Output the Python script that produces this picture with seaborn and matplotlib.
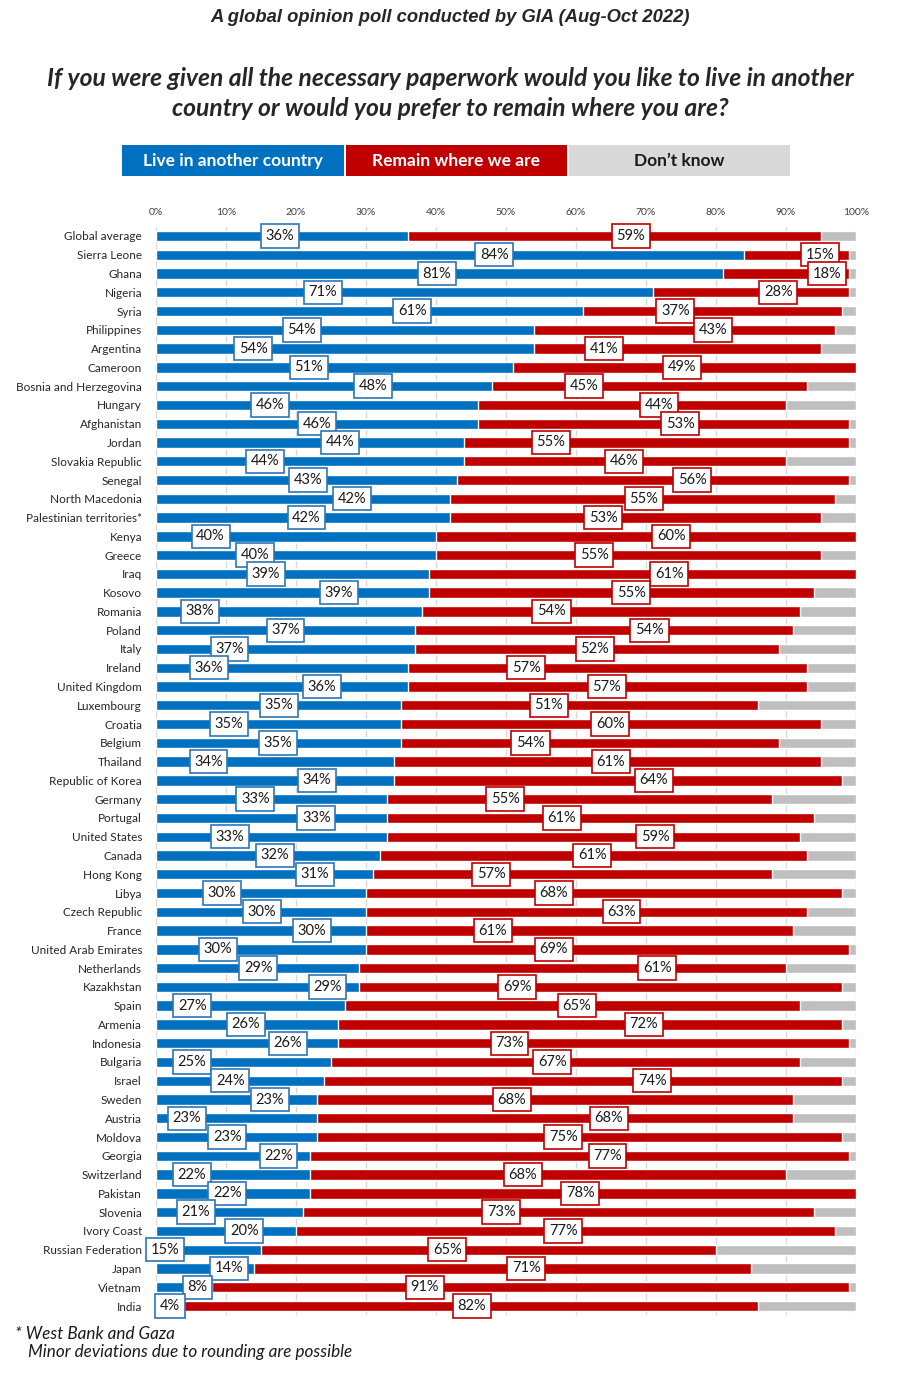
import pandas as pd
import matplotlib
matplotlib.use("Agg")
import matplotlib.pyplot as plt
import seaborn as sns
from matplotlib.patches import Rectangle

# Data
countries = [
    "Global average", "Sierra Leone", "Ghana", "Nigeria", "Syria", "Philippines",
    "Argentina", "Cameroon", "Bosnia and Herzegovina", "Hungary", "Afghanistan",
    "Jordan", "Slovakia Republic", "Senegal", "North Macedonia",
    "Palestinian territories*", "Kenya", "Greece", "Iraq", "Kosovo", "Romania",
    "Poland", "Italy", "Ireland", "United Kingdom", "Luxembourg", "Croatia",
    "Belgium", "Thailand", "Republic of Korea", "Germany", "Portugal",
    "United States", "Canada", "Hong Kong", "Libya", "Czech Republic", "France",
    "United Arab Emirates", "Netherlands", "Kazakhstan", "Spain", "Armenia",
    "Indonesia", "Bulgaria", "Israel", "Sweden", "Austria", "Moldova", "Georgia",
    "Switzerland", "Pakistan", "Slovenia", "Ivory Coast", "Russian Federation",
    "Japan", "Vietnam", "India",
]
live_abroad = [
    36, 84, 81, 71, 61, 54, 54, 51, 48, 46, 46, 44, 44, 43, 42, 42, 40, 40, 39,
    39, 38, 37, 37, 36, 36, 35, 35, 35, 34, 34, 33, 33, 33, 32, 31, 30, 30, 30,
    30, 29, 29, 27, 26, 26, 25, 24, 23, 23, 23, 22, 22, 22, 21, 20, 15, 14, 8, 4,
]
remain = [
    59, 15, 18, 28, 37, 43, 41, 49, 45, 44, 53, 55, 46, 56, 55, 53, 60, 55, 61,
    55, 54, 54, 52, 57, 57, 51, 60, 54, 61, 64, 55, 61, 59, 61, 57, 68, 63, 61,
    69, 61, 69, 65, 72, 73, 67, 74, 68, 68, 75, 77, 68, 78, 73, 77, 65, 71, 91, 82,
]

# where the value boxes sit (in % along the axis), as placed in the original
live_label_pos = [
    17.7, 48.3, 40.1, 23.8, 36.6, 20.8, 13.9, 21.8, 31.0, 16.3, 23.0, 26.3, 15.6,
    21.7, 28.0, 21.5, 7.8, 14.2, 15.7, 26.1, 6.3, 18.5, 10.5, 7.6, 23.7, 17.6,
    10.4, 17.4, 7.5, 23.0, 14.2, 22.9, 10.6, 17.0, 22.7, 9.4, 15.1, 22.3, 8.8,
    14.6, 24.5, 5.2, 12.8, 18.8, 5.1, 10.6, 16.3, 4.4, 10.2, 17.5, 5.1, 10.2,
    5.7, 12.6, 1.3, 10.4, 5.9, 2.0,
]
remain_label_pos = [
    67.8, 94.9, 95.8, 88.9, 74.2, 79.6, 64.0, 75.2, 61.1, 71.9, 74.9, 56.4, 66.9,
    76.6, 69.7, 63.9, 73.6, 62.6, 73.3, 67.9, 56.5, 70.5, 62.7, 52.9, 64.4, 56.1,
    64.9, 53.5, 65.0, 71.1, 49.9, 58.0, 71.3, 62.3, 47.9, 56.8, 66.5, 48.1, 56.8,
    71.6, 51.6, 60.1, 69.7, 50.5, 56.6, 70.9, 50.8, 64.7, 58.2, 64.5, 52.4, 60.6,
    49.3, 58.2, 41.6, 52.9, 38.4, 45.1,
]

BLUE = "#0070C0"
RED = "#C00000"
GREY = "#BFBFBF"
LEGEND_GREY = "#D9D9D9"

df = pd.DataFrame({"country": countries, "live": live_abroad, "remain": remain})
df["remain_end"] = df["live"] + df["remain"]
df["total"] = 100

sns.set_theme(style="white")
plt.rcParams["font.family"] = ["Lato", "DejaVu Sans"]

fig = plt.figure(figsize=(9, 13.73), dpi=100)
ax = fig.add_axes([156 / 900, 1 - 1315.4 / 1373, 700 / 900, (1315.4 - 226.6) / 1373])

# stacked bars: grey background to 100, red up to live+remain, blue on top
sns.barplot(data=df, x="total", y="country", color=GREY, width=0.55,
            saturation=1, errorbar=None, orient="h", ax=ax, zorder=2)
sns.barplot(data=df, x="remain_end", y="country", color=RED, width=0.55,
            saturation=1, errorbar=None, orient="h", ax=ax, zorder=2)
sns.barplot(data=df, x="live", y="country", color=BLUE, width=0.55,
            saturation=1, errorbar=None, orient="h", ax=ax, zorder=2)

ax.set_xlim(0, 100)
ax.set_ylim(len(countries) - 0.5, -0.5)
ax.xaxis.tick_top()
ax.set_xticks(range(0, 101, 10))
ax.set_xticklabels([f"{v}%" for v in range(0, 101, 10)])
ax.tick_params(axis="x", length=0, pad=7, labelsize=7.5, labelcolor="#404040")
ax.tick_params(axis="y", length=0, pad=10, labelsize=8.5, labelcolor="#262626")
ax.set_xlabel("")
ax.set_ylabel("")
ax.grid(axis="x", color="#D9D9D9", lw=1, zorder=0)
ax.set_axisbelow(True)
for s in ax.spines.values():
    s.set_visible(False)

# value boxes
box_kw = dict(ha="center", va="center", fontsize=10.5, color="#1a1a1a", zorder=5)
for i, (v, xp) in enumerate(zip(live_abroad, live_label_pos)):
    ax.text(xp, i, f"{v}%", **box_kw,
            bbox=dict(boxstyle="square,pad=0.32", fc="white", ec="#2E75B6", lw=1.2))
for i, (v, xp) in enumerate(zip(remain, remain_label_pos)):
    ax.text(xp, i, f"{v}%", **box_kw,
            bbox=dict(boxstyle="square,pad=0.32", fc="white", ec=RED, lw=1.2))

# titles
fig.text(0.5, 1 - 18 / 1373, "A global opinion poll conducted by GIA (Aug-Oct 2022)",
         ha="center", va="center", fontsize=13.2, fontweight="bold", style="italic",
         family=["Liberation Sans", "DejaVu Sans"])
fig.text(0.5, 1 - 79 / 1373,
         "If you were given all the necessary paperwork would you like to live in another",
         ha="center", va="center", fontsize=17.7, fontweight="bold", style="italic")
fig.text(0.5, 1 - 108 / 1373,
         "country or would you prefer to remain where you are?",
         ha="center", va="center", fontsize=17.7, fontweight="bold", style="italic")

# legend strip
legend_items = [("Live in another country", BLUE, "white", 122, 344),
                ("Remain where we are", RED, "white", 346, 567),
                ("Don\u2019t know", LEGEND_GREY, "#1a1a1a", 569, 790)]
for label, fc, tc, x0, x1 in legend_items:
    fig.add_artist(Rectangle((x0 / 900, 1 - 176 / 1373), (x1 - x0) / 900, 31 / 1373,
                             transform=fig.transFigure, fc=fc, ec="none"))
    fig.text((x0 + x1) / 2 / 900, 1 - 161 / 1373, label, ha="center", va="center",
             fontsize=12.5, fontweight="bold", color=tc)

# footnotes
fig.text(15 / 900, 1 - 1334 / 1373, "* West Bank and Gaza", ha="left", va="center",
         fontsize=12.3, style="italic", color="#1a1a1a")
fig.text(28 / 900, 1 - 1352 / 1373, "Minor deviations due to rounding are possible",
         ha="left", va="center", fontsize=12.3, style="italic", color="#1a1a1a")

fig.savefig("out.png", dpi=100)
